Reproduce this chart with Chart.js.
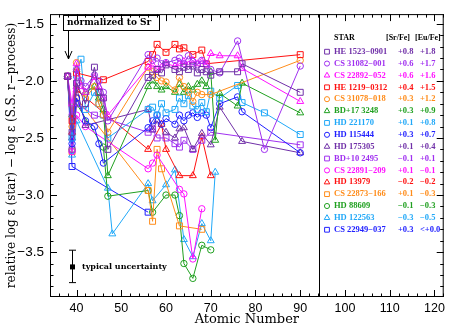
<!DOCTYPE html>
<html>
<head>
<meta charset="utf-8">
<script src="https://cdn.jsdelivr.net/npm/chart.js@4.4.0/dist/chart.umd.min.js"></script>
<style>
  html, body { margin: 0; padding: 0; background: #fff; }
</style>
</head>
<body>
<canvas id="abund" width="449" height="324"></canvas>
<script>
// atomic numbers of the plotted elements
// Sr Y Zr Nb Mo | Ru Rh Pd Ag Cd | Ba La Ce Pr Nd | Sm Eu Gd Tb Dy | Ho Er Tm Yb Lu | Hf Os Ir Pb Th
const atomicNumbers = [38, 39, 40, 41, 42, 44, 45, 46, 47, 48, 56, 57, 58, 59, 60,
                       62, 63, 64, 65, 66, 67, 68, 69, 70, 71, 72, 76, 77, 82, 90];
const _ = null;

const he1523_0901 = [-1.96, -2.45, -2.02, _, -2.20, -1.88, -2.10, -2.15, -2.60, _, -1.97, -1.95, -1.90, -1.93, -1.86,
                     -1.90, -1.92, -1.88, -1.90, -1.87, -1.93, -1.90, -1.92, -1.95, _, -1.92, -1.92, -1.85, _, -2.10];
const cs31082_001 = [-1.96, -2.30, -1.90, -2.00, -2.05, -1.95, -2.00, -2.10, -2.35, _, -1.77, -1.82, -1.80, -1.85, -1.84,
                     -1.82, -1.80, -1.85, -1.78, -1.83, -1.86, -1.82, -1.85, -1.90, _, -1.93, -1.65, _, -2.60, -1.87];
const cs22892_052 = [-1.96, -2.20, -1.85, -2.05, -2.10, -1.97, -2.05, -2.15, -2.30, _, -1.88, -1.86, -1.90, -1.88, -1.85,
                     -1.87, -1.85, -1.83, -1.86, -1.82, -1.85, -1.83, -1.86, -1.76, _, -1.78, -1.78, -1.89, _, -2.18];
const he1219_0312 = [-1.96, -2.35, -1.93, _, _, _, _, -1.99, _, _, -1.83, -1.77, -1.68, _, -1.75,
                     -1.68, -1.72, -1.71, _, -1.77, _, -1.73, -1.85, _, _, _, _, _, _, -1.77];
const cs31078_018 = [-1.96, -2.40, -1.84, _, -2.15, -2.05, -2.20, -2.30, -2.45, _, -1.88, -1.92, -1.97, -2.00, -2.01,
                     -2.08, -1.97, -2.05, -2.10, -2.18, -2.10, -2.12, _, -2.12, _, _, _, _, _, -1.82];
const bd17_3248   = [-1.96, -2.30, -1.90, _, -2.10, -2.05, -2.15, -2.25, -2.83, _, -2.05, -2.00, -2.05, -2.08, -2.05,
                     -2.10, -2.03, -2.10, -2.05, -2.08, -2.03, -2.00, -2.05, -1.92, -2.52, -2.11, -2.22, -2.02, _, -2.28];
const hd221170    = [-1.96, -2.50, -1.95, -1.81, -2.25, -2.10, -2.20, -2.30, -2.50, _, -2.25, -2.23, -2.30, -2.20, -2.28,
                     -2.25, -2.15, -2.20, -2.13, -2.22, -2.25, -2.19, -2.27, -2.09, _, -2.15, -2.04, -2.19, -2.28, -2.47];
const hd115444    = [-1.96, -2.55, -2.15, _, -2.35, -2.40, -2.55, -2.72, _, _, -2.41, -2.35, -2.30, -2.38, -2.33,
                     -2.38, -2.30, -2.35, -2.30, -2.28, -2.32, -2.28, -2.30, -2.41, _, -2.20, -2.14, -2.27, _, -2.63];
const hd175305    = [-1.96, -2.50, -2.05, _, -2.39, _, _, _, _, _, -2.25, -2.43, -2.35, _, -2.45,
                     -2.50, -2.42, -2.41, _, -2.60, _, -2.46, _, -2.56, _, -2.23, _, -2.53, _, -2.63];
const bd10_2495   = [-1.96, -2.60, -2.20, _, _, -2.30, _, _, _, _, -2.45, -2.42, -2.50, _, -2.50,
                     -2.55, -2.58, -2.52, _, -2.60, _, -2.52, _, -2.45, _, _, _, _, _, -2.56];
const cs22891_209 = [-1.96, -2.62, -2.30, _, -2.40, _, _, _, _, _, -2.77, -2.72, -2.65, _, _,
                     _, -2.95, -2.99, _, -3.56, _, -3.12, _, _, _, _, _, _, _, _];
const hd13979     = [-1.96, -2.45, -2.08, _, _, _, _, _, _, _, -2.60, _, _, -2.38, -2.60,
                     _, -2.83, _, _, -2.83, _, -2.49, _, -2.83, _, _, _, _, _, _];
const cs22873_166 = [-1.96, -2.62, -2.15, _, _, _, _, _, _, _, -2.96, -3.23, -2.60, -2.77, _,
                     _, -3.27, _, _, _, _, -3.30, _, _, _, _, _, _, _, _];
const hd88609     = [-1.96, -2.60, -2.20, _, _, _, _, -2.58, -3.01, _, -2.96, -3.15, _, _, -3.00,
                     -3.00, -3.18, -3.60, _, -3.73, _, -3.44, _, -3.48, _, _, _, _, _, _];
const hd122563    = [-1.96, -2.65, -2.35, _, _, _, _, _, -2.94, -3.34, -2.90, -3.05, _, _, -2.91,
                     -2.78, _, -3.39, _, -3.54, _, -3.25, _, -3.40, -2.80, _, _, _, _, _];
const cs22949_037 = [-1.96, -2.75, _, _, _, _, _, _, _, _, -3.15, _, _, _, _,
                     _, _, _, _, _, _, _, _, _, _, _, _, _, _, _];

const starValues = [he1523_0901, cs31082_001, cs22892_052, he1219_0312, cs31078_018, bd17_3248,
                    hd221170, hd115444, hd175305, bd10_2495, cs22891_209, hd13979,
                    cs22873_166, hd88609, hd122563, cs22949_037];
const starNames = ['HE 1523\u22120901', 'CS 31082\u2212001', 'CS 22892\u2212052', 'HE 1219\u22120312',
                   'CS 31078\u2212018', 'BD+17 3248', 'HD 221170', 'HD 115444', 'HD 175305',
                   'BD+10 2495', 'CS 22891\u2212209', 'HD 13979', 'CS 22873\u2212166', 'HD 88609',
                   'HD 122563', 'CS 22949\u2212037'];
const srFe = ['+0.8', '+0.6', '+0.6', '+0.4', '+0.3', '+0.3', '+0.1', '+0.3',
              '+0.1', '\u22120.1', '+0.1', '\u22120.2', '+0.1', '\u22120.1', '\u22120.3', '+0.3'];
const euFe = ['+1.8', '+1.7', '+1.6', '+1.5', '+1.2', '+0.9', '+0.8', '+0.7',
              '+0.4', '+0.1', '\u22120.1', '\u22120.2', '\u22120.3', '\u22120.3', '\u22120.5', '<+0.0'];
const xTicks = [40, 50, 60, 70, 80, 90, 100, 110, 120];
const yTicks = [-3.5, -3.0, -2.5, -2.0, -1.5];

// styles
const PURPLE = '#7030a8', VIOLET = '#a030f0', MAGENTA = '#ff10ff', RED = '#ff1010',
      ORANGE = '#ff8c1a', GREEN = '#20a020', LTBLUE = '#20a8f8', BLUE = '#2020ff';
const starColors = [PURPLE, VIOLET, MAGENTA, RED, ORANGE, GREEN, LTBLUE, BLUE,
                    PURPLE, VIOLET, MAGENTA, RED, ORANGE, GREEN, LTBLUE, BLUE];
const shapes = ['rect', 'circle', 'triangle'];
const radii = { rect: 4.2, circle: 3.2, triangle: 4 };
const serif = "'Liberation Serif', serif";
const heavySerif = "'DejaVu Serif', serif";

const datasets = starValues.map((vals, i) => {
  const shape = shapes[i % 3];
  return {
    label: starNames[i],
    data: atomicNumbers.map((z, k) => ({ x: z, y: vals[k] })).filter(p => p.y !== null),
    borderColor: starColors[i],
    backgroundColor: 'rgba(0,0,0,0)',
    borderWidth: 1,
    pointStyle: shape,
    pointRadius: radii[shape],
    pointBorderWidth: 1,
    pointBackgroundColor: 'rgba(0,0,0,0)',
    pointBorderColor: starColors[i],
    tension: 0,
    fill: false
  };
});

const decorations = {
  id: 'decorations',
  afterDraw(chart) {
    const { ctx, chartArea: a, scales: { x, y } } = chart;
    const seg = (x1, y1, x2, y2) => { ctx.beginPath(); ctx.moveTo(x1, y1); ctx.lineTo(x2, y2); ctx.stroke(); };
    ctx.save();
    ctx.strokeStyle = '#000';
    ctx.lineWidth = 1;
    ctx.strokeRect(a.left + 0.5, a.top + 0.5, a.right - a.left - 1, a.bottom - a.top - 1);

    // inward ticks on all four sides
    for (let v = 36; v <= 122; v += 2) {
      const px = Math.round(x.getPixelForValue(v)) + 0.5;
      const len = v % 10 === 0 ? 7 : 3.5;
      seg(px, a.bottom, px, a.bottom - len);
      seg(px, a.top, px, a.top + len);
    }
    for (let k = -38; k <= -15; k++) {
      const py = Math.round(y.getPixelForValue(k / 10)) + 0.5;
      const len = k % 5 === 0 ? 7 : 3.5;
      seg(a.left, py, a.left + len, py);
      seg(a.right, py, a.right - len, py);
    }

    // divider between plot and star list
    const dx = Math.round(x.getPixelForValue(94.3)) + 0.5;
    seg(dx, a.top, dx, a.bottom);

    // star list
    ctx.textBaseline = 'middle';
    ctx.font = 'bold 8px ' + serif;
    ctx.fillStyle = '#000';
    ctx.fillText('STAR', 334, 38);
    ctx.fillText('[Sr/Fe]', 386, 38);
    ctx.fillText('[Eu/Fe]', 415, 38);
    ctx.font = 'bold 8.5px ' + serif;
    starNames.forEach((name, i) => {
      const ry = 51.7 + i * 11.87;
      const shape = shapes[i % 3];
      ctx.strokeStyle = starColors[i];
      ctx.fillStyle = 'rgba(0,0,0,0)';
      Chart.helpers.drawPoint(ctx, { pointStyle: shape, radius: radii[shape] * 0.8, borderWidth: 1 }, 327, ry);
      ctx.fillStyle = starColors[i];
      ctx.fillText(name, 334, ry);
      ctx.fillText(srFe[i], 398, ry);
      ctx.fillText(euFe[i], 420, ry);
    });

    // "normalized to Sr" box and arrow
    ctx.fillStyle = '#000';
    ctx.strokeStyle = '#000';
    ctx.strokeRect(63.5, 15.5, 96, 15);
    ctx.font = 'bold 9px ' + heavySerif;
    ctx.fillText('normalized to Sr', 67, 23);
    const ax = Math.round(x.getPixelForValue(38)) + 0.5;
    seg(ax, 31, ax, 59);
    seg(ax - 3.5, 51, ax, 59);
    seg(ax + 3.5, 51, ax, 59);

    // typical uncertainty
    const ex = Math.round(x.getPixelForValue(38.9)) + 0.5;
    const ey = y.getPixelForValue(-3.625);
    const eTop = y.getPixelForValue(-3.483), eBot = y.getPixelForValue(-3.767);
    seg(ex, eTop, ex, eBot);
    seg(ex - 3.5, eTop, ex + 3.5, eTop);
    seg(ex - 3.5, eBot, ex + 3.5, eBot);
    ctx.fillRect(ex - 2.5, ey - 2, 5, 5);
    ctx.font = 'bold 8px ' + heavySerif;
    ctx.fillText('typical uncertainty', 82, ey + 0.5);
    ctx.restore();
  }
};

const minus = v => (v < 0 ? '\u2212' : '') + Math.abs(v).toFixed(1);

new Chart(document.getElementById('abund'), {
  type: 'line',
  data: { datasets },
  options: {
    responsive: false,
    animation: false,
    spanGaps: true,
    layout: { padding: { left: 0, right: 3, top: 1, bottom: 0 } },
    plugins: { legend: { display: false }, tooltip: { enabled: false } },
    scales: {
      x: {
        type: 'linear',
        min: 34.07,
        max: 122.07,
        grid: { display: false, drawTicks: false },
        border: { display: false },
        afterBuildTicks: s => { s.ticks = xTicks.map(v => ({ value: v })); },
        afterFit: s => { s.height = 27; },
        ticks: { padding: 4, color: '#000', font: { family: "'Liberation Sans', sans-serif", size: 12.5 }, callback: v => v },
        title: { display: true, text: 'Atomic Number', color: '#000',
                 font: { family: heavySerif, size: 13, lineHeight: 1 }, padding: { top: 0, bottom: -2 } }
      },
      y: {
        min: -3.893,
        max: -1.415,
        grid: { display: false, drawTicks: false },
        border: { display: false },
        afterBuildTicks: s => { s.ticks = yTicks.map(v => ({ value: v })); },
        afterFit: s => { s.width = 50; },
        ticks: { padding: 6, color: '#000', font: { family: "'Liberation Sans', sans-serif", size: 13.5 }, callback: minus },
        title: { display: true, text: 'relative log \u03b5 (star) \u2212 log \u03b5 (S.S. r\u2212process)', color: '#000',
                 font: { family: heavySerif, size: 12, lineHeight: 1 }, padding: { top: 6, bottom: 0 } }
      }
    }
  },
  plugins: [decorations]
});
</script>
</body>
</html>
